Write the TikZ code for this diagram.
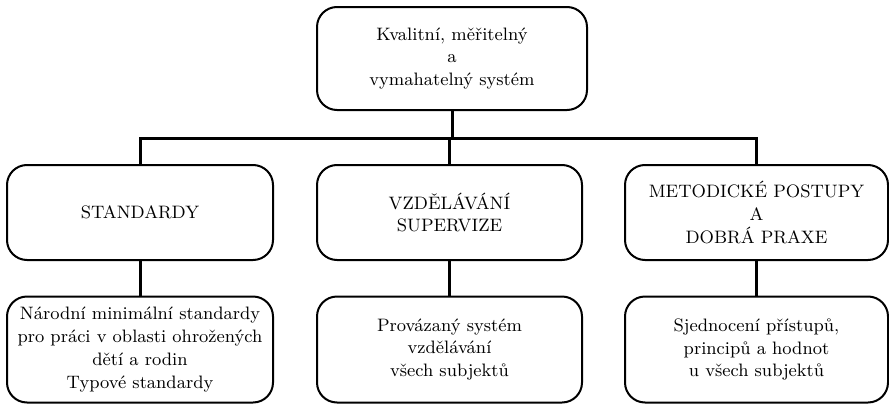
\documentclass[tikz,border=0pt]{standalone}
\usepackage{fontspec}
\usepackage{tikz}
\usetikzlibrary{calc,positioning}

\begin{document}
\begin{tikzpicture}[x=0.5pt,y=0.5pt,
		box/.style={draw,line width=1pt,rounded corners=10pt,align=center,inner sep=0pt,
			font=\fontsize{9}{11.4}\selectfont},
		midbox/.style={box,minimum height=47.5pt},
		lowbox/.style={box,minimum height=53pt},
		link/.style={line width=1.5pt}]
		\useasboundingbox (0,0) rectangle (889,403);

		\node[box,minimum width=135pt,minimum height=51.5pt] (sys) at (452,344.5) {Kvalitní, měřitelný\\a\\vymahatelný systém};

		\node[midbox,minimum width=133pt] (std) at (140,190.5) {STANDARDY};
		\node[midbox,minimum width=132.5pt] (vzd) at (449.5,190.5) {VZDĚLÁVÁNÍ\\SUPERVIZE};
		\node[midbox,minimum width=131.5pt] (met) at (756.5,190.5) {METODICKÉ POSTUPY\\A\\DOBRÁ PRAXE};

		\node[lowbox,minimum width=133pt] (nms) at (140,53.5) {Národní minimální standardy\\pro práci v oblasti ohrožených\\dětí a rodin\\Typové standardy};
		\node[lowbox,minimum width=132.5pt] (prov) at (449.5,53.5) {Provázaný systém\\vzdělávání\\všech subjektů};
		\node[lowbox,minimum width=131.5pt] (sjed) at (756.5,53.5) {Sjednocení přístupů,\\principů a hodnot\\u všech subjektů};

		\coordinate (bus) at (449.5,265);
		\draw[link] (sys.south) -- (sys.south |- bus);
		\draw[link] (bus) -| (std.north);
		\draw[link] (bus) -| (met.north);
		\draw[link] (bus) -- (vzd.north);

		\draw[link] (std) -- (nms);
		\draw[link] (vzd) -- (prov);
		\draw[link] (met) -- (sjed);
	\end{tikzpicture}
\end{document}
